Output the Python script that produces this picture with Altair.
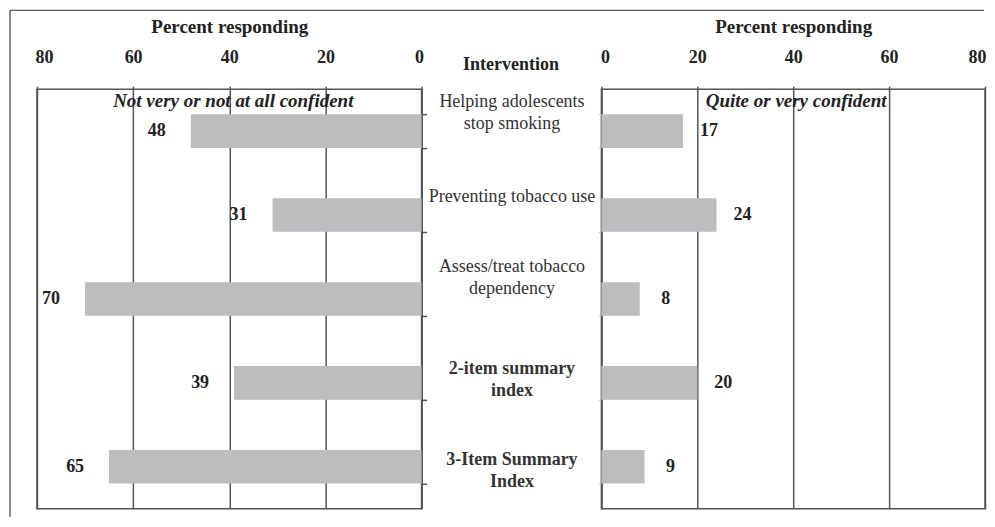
import altair as alt
import pandas as pd

categories = [
    "Helping adolescents|stop smoking",
    "Preventing tobacco use",
    "Assess/treat tobacco|dependency",
    "2-item summary|index",
    "3-Item Summary|Index",
]
not_confident = [48, 31, 70, 39, 65]
confident = [17, 24, 8, 20, 9]
ticks = [0, 20, 40, 60, 80]

df = pd.DataFrame({"category": categories, "notconf": not_confident, "conf": confident})
dummy = pd.DataFrame({"a": [0]})

FONT = "Liberation Serif"
LINE = "#555555"
BAR = "#bdbdbf"
TXT = "#222222"
W_L, W_R, H = 385, 384, 420

bold_test = "indexof(lower(datum.value), 'summary') >= 0"

label_offset = {
    "condition": [
        {"test": "datum.value == '" + categories[0] + "'", "value": -30},
        {"test": "datum.value == '" + categories[2] + "'", "value": -32},
        {"test": "datum.value == '" + categories[3] + "'", "value": -14},
        {"test": "datum.value == '" + categories[4] + "'", "value": -7},
    ],
    "value": -19,
}

yscale = alt.Scale(domain=categories, paddingInner=0.6, paddingOuter=0.3)

left_y = alt.Y(
    "category:N",
    sort=categories,
    scale=yscale,
    axis=alt.Axis(
        orient="right",
        title="Intervention",
        titleAngle=0,
        titleX=89,
        titleY=-25,
        titleAlign="center",
        titleBaseline="middle",
        titleFont=FONT,
        titleFontSize=18,
        titleFontWeight="bold",
        titleColor=TXT,
        tickBand="extent",
        tickSize=5,
        tickColor=LINE,
        tickWidth=1.5,
        domainColor=LINE,
        domainWidth=1.5,
        labelExpr="split(datum.label, '|')",
        labelAlign="center",
        labelBaseline="middle",
        labelPadding=85,
        labelLimit=300,
        labelFont=FONT,
        labelFontSize=18,
        labelLineHeight=22,
        labelColor="#333333",
        labelFontWeight=alt.condition(bold_test, alt.value("bold"), alt.value("normal")),
        labelOffset=label_offset,
        grid=False,
    ),
)

def x_axis(flush_offset):
    return alt.Axis(
        orient="top",
        values=ticks,
        title="Percent responding",
        titleFont=FONT,
        titleFontSize=19,
        titleFontWeight="bold",
        titleColor=TXT,
        titlePadding=12,
        labelFont=FONT,
        labelFontSize=18,
        labelFontWeight="bold",
        labelColor=TXT,
        labelPadding=20,
        labelFlush=True,
        labelFlushOffset=flush_offset,
        tickSize=3,
        tickColor=LINE,
        tickWidth=1.5,
        domain=False,
        grid=True,
        gridColor=LINE,
        gridWidth=1.5,
        gridOpacity=1,
    )

left_bars = alt.Chart(df).mark_bar(color=BAR).encode(
    y=left_y,
    x=alt.X("notconf:Q", scale=alt.Scale(domain=[0, 80], reverse=True), axis=x_axis(2)),
)
left_text = alt.Chart(df).mark_text(
    dx=-34, font=FONT, fontSize=18, fontWeight="bold", color=TXT
).encode(
    y=alt.Y("category:N", sort=categories, scale=yscale),
    x=alt.X("notconf:Q"),
    text="notconf:Q",
)
left_note = alt.Chart(dummy).mark_text(
    text="Not very or not at all confident", font=FONT, fontSize=19,
    fontWeight="bold", fontStyle="italic", color=TXT,
).encode(x=alt.value(W_L / 2 + 4), y=alt.value(12))

frame_v = alt.Chart(dummy).mark_rule(color="#666666", strokeWidth=1.5).encode(
    x=alt.value(-27), y=alt.value(-79), y2=alt.value(428)
)
frame_h = alt.Chart(dummy).mark_rule(color="#333333", strokeWidth=1.2).encode(
    x=alt.value(-27), x2=alt.value(948), y=alt.value(-79)
)

left = alt.layer(frame_v, frame_h, left_bars, left_text, left_note).properties(
    width=W_L, height=H
)

right_bars = alt.Chart(df).mark_bar(color=BAR).encode(
    y=alt.Y(
        "category:N",
        sort=categories,
        scale=yscale,
        axis=alt.Axis(
            orient="left",
            title=None,
            labels=False,
            tickBand="extent",
            tickSize=3,
            tickColor="#c8c8c8",
            domainColor=LINE,
            domainWidth=1.5,
            grid=False,
        ),
    ),
    x=alt.X("conf:Q", scale=alt.Scale(domain=[0, 80]), axis=x_axis(1)),
)
right_text = alt.Chart(df).mark_text(
    dx=26, font=FONT, fontSize=18, fontWeight="bold", color=TXT
).encode(
    y=alt.Y("category:N", sort=categories, scale=yscale),
    x=alt.X("conf:Q"),
    text="conf:Q",
)
right_note = alt.Chart(dummy).mark_text(
    text="Quite or very confident", font=FONT, fontSize=19,
    fontWeight="bold", fontStyle="italic", color=TXT,
).encode(x=alt.value(W_R / 2 + 3), y=alt.value(12))

right = alt.layer(right_bars, right_text, right_note).properties(width=W_R, height=H)

chart = (
    alt.hconcat(left, right, spacing=180, bounds="flush")
    .properties(padding={"left": 0, "top": 0, "right": 0, "bottom": 0})
    .configure(font=FONT, background="white")
    .configure_view(stroke=LINE, strokeWidth=1.5)
)

chart.save("out.html", embed_options={"renderer": "svg", "actions": False})
